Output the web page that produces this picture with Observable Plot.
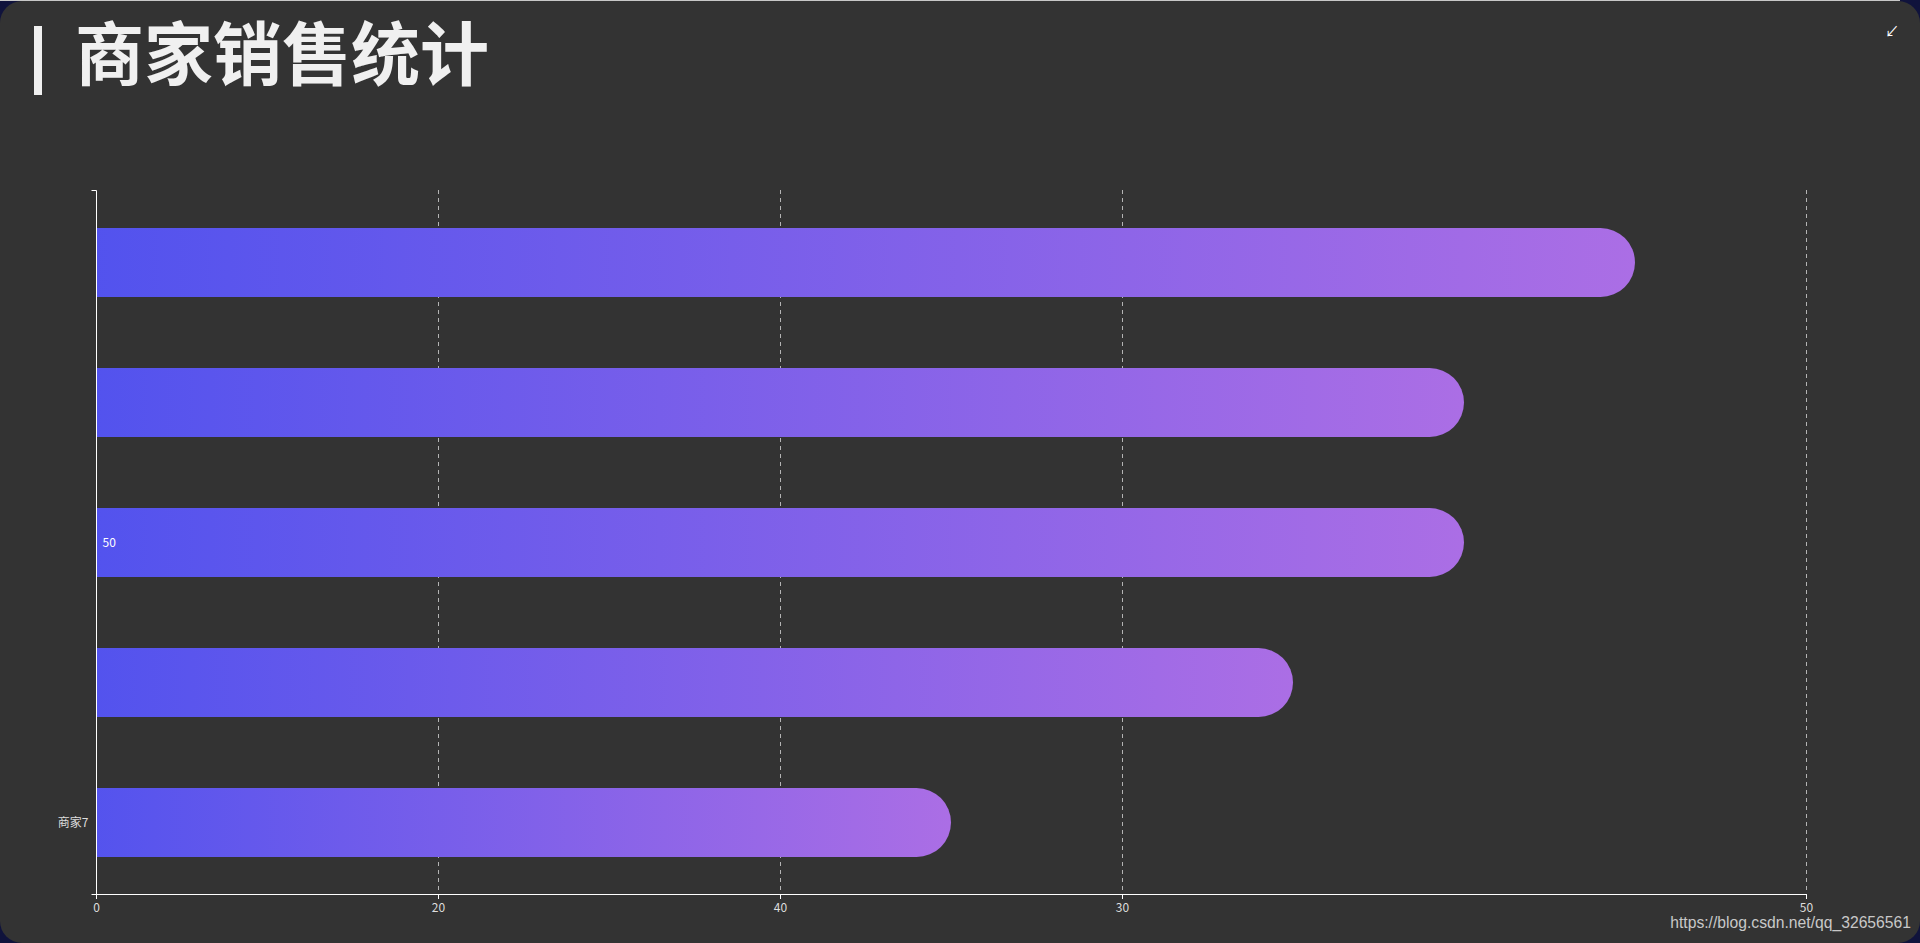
<!DOCTYPE html>
<html>
<head>
<meta charset="utf-8">
<script src="https://cdn.jsdelivr.net/npm/d3@7"></script>
<script src="https://cdn.jsdelivr.net/npm/@observablehq/plot@0.6"></script>
<style>
  html, body { margin: 0; padding: 0; width: 1920px; height: 943px; overflow: hidden; background: #10133c; }
  #topline { position: absolute; left: 0; top: 0; width: 1900px; height: 1px; background: #c8c8c8; }
  #card { position: absolute; left: 0; top: 1px; width: 1920px; height: 942px; background: #333333; border-radius: 22px; overflow: hidden; }
  #bar { position: absolute; left: 34px; top: 25px; width: 8px; height: 69px; background: #f0f0f0; }
  #title { position: absolute; left: 75px; top: 8px; margin: 0; padding: 0 4px 0 0; font: bold 69px/1.2 "Noto Sans CJK SC", sans-serif; color: #f0f0f0; white-space: nowrap; }
  #icon { position: absolute; left: 1885px; top: 21px; font: 14px/1.2 "Noto Sans CJK SC", sans-serif; color: #ffffff; }
  #chart { position: absolute; left: 0; top: -1px; }
  #watermark { position: absolute; right: 9px; top: 913px; font: 15.7px/1.1 "Liberation Sans", Arial, sans-serif; color: #c8c8c8; white-space: nowrap; }
</style>
</head>
<body>
<div id="topline"></div>
<div id="card">
  <div id="bar"></div>
  <div id="title">商家销售统计</div>
  <div id="icon">↙</div>
  <div id="chart"></div>
  <div id="watermark">https://blog.csdn.net/qq_32656561</div>
</div>
<script>
// ---- data ----
const categories = ["商家3", "商家4", "商家5", "商家6", "商家7"];
const sales = [45, 40, 40, 35, 25];
const yTickLabels = ["", "", "", "", "商家7"];
const barLabels = ["", "", "50", "", ""];
const xTicks = [0, 10, 20, 30, 50];
const xTickLabels = ["0", "20", "40", "30", "50"];
const xGridTicks = [10, 20, 30, 50];

const data = categories.map((c, i) => ({ category: c, value: sales[i], label: barLabels[i] }));

const FONT = '"Noto Sans CJK SC", sans-serif';

const defs = () => {
  const g = d3.create("svg:defs");
  const lg = g.append("linearGradient").attr("id", "barGrad")
    .attr("x1", "0").attr("y1", "0").attr("x2", "1").attr("y2", "0");
  lg.append("stop").attr("offset", "0%").attr("stop-color", "#5052EE");
  lg.append("stop").attr("offset", "100%").attr("stop-color", "#AB6EE5");
  return g.node();
};

const axisLines = (index, scales, values, dim) => {
  const g = d3.create("svg:g").attr("stroke", "#ffffff").attr("stroke-width", 1).attr("fill", "none");
  const left = dim.marginLeft + 0.5;
  const right = dim.width - dim.marginRight;
  const top = dim.marginTop + 0.5;
  const bottom = dim.height - dim.marginBottom + 0.5;
  g.append("line").attr("x1", left).attr("x2", left).attr("y1", top).attr("y2", bottom);
  g.append("line").attr("x1", left - 5).attr("x2", left).attr("y1", top).attr("y2", top);
  g.append("line").attr("x1", left - 5).attr("x2", right).attr("y1", bottom).attr("y2", bottom);
  return g.node();
};

const chart = Plot.plot({
  width: 1920,
  height: 943,
  marginLeft: 96,
  marginRight: 114,
  marginTop: 190,
  marginBottom: 49,
  style: { background: "transparent", fontFamily: FONT, fontSize: "12px", color: "#dddddd" },
  x: { domain: [0, 50], label: null },
  y: { domain: categories, paddingInner: 0.51, paddingOuter: 0.255, label: null },
  marks: [
    defs,
    Plot.gridX(xGridTicks, { stroke: "#b4b4b4", strokeOpacity: 1, strokeWidth: 1, strokeDasharray: "4,4" }),
    Plot.barX(data, {
      x: "value", y: "category", fill: "url(#barGrad)",
      rx: 34.5, insetLeft: -40, clip: true
    }),
    Plot.text(data, {
      frameAnchor: "left", y: "category", text: "label", dx: 6,
      textAnchor: "start", fill: "#ffffff", fontSize: 12
    }),
    axisLines,
    Plot.axisX({
      ticks: xTicks,
      tickFormat: d => xTickLabels[xTicks.indexOf(d)],
      tickSize: 5, tickPadding: 4, stroke: "#ffffff", fill: "#dddddd", fontSize: 12, label: null
    }),
    Plot.axisY({
      tickFormat: d => yTickLabels[categories.indexOf(d)],
      tickSize: 0, tickPadding: 8, fill: "#dddddd", fontSize: 12, label: null
    })
  ]
});
document.getElementById("chart").appendChild(chart);
</script>
</body>
</html>
